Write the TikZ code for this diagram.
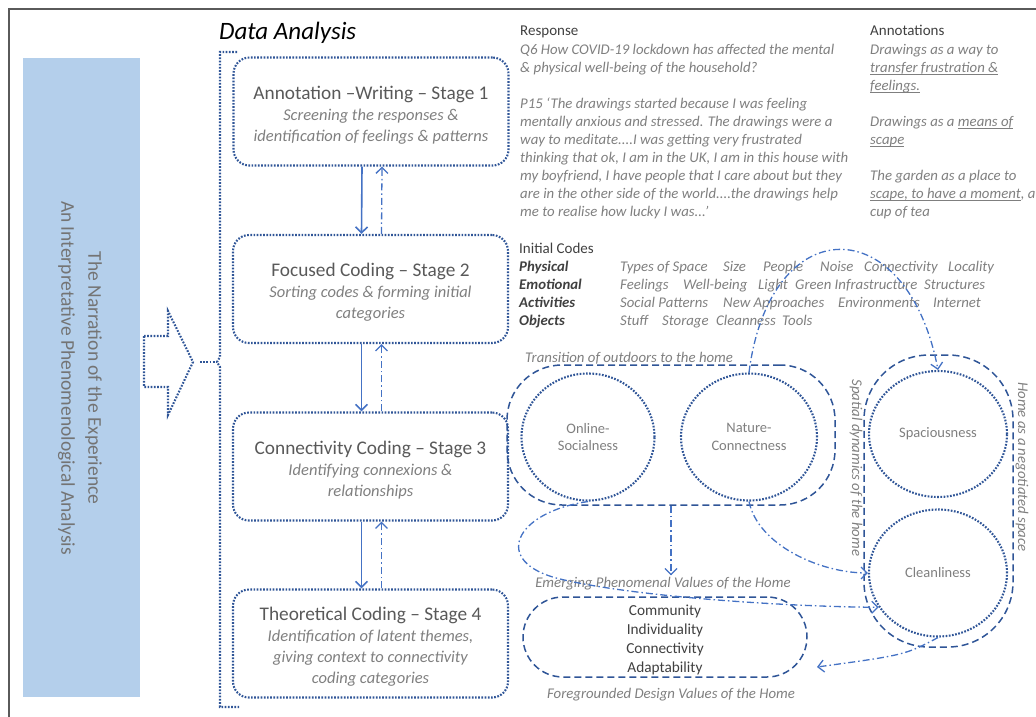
\documentclass[tikz,border=0pt]{standalone}
\usepackage{fontspec}
\setmainfont{Carlito}
\usetikzlibrary{arrows.meta,shapes.geometric,calc}
\definecolor{dblue}{HTML}{2F5597}
\definecolor{mblue}{HTML}{4472C4}
\definecolor{panelblue}{HTML}{B4CFEB}
\definecolor{tdark}{HTML}{404040}
\definecolor{tmid}{HTML}{595959}
\definecolor{tlight}{HTML}{7F7F7F}
\definecolor{tpanel}{HTML}{747474}
\definecolor{framegray}{HTML}{5A5A5A}
\newcommand{\fsT}{\fontsize{19.3}{23}\selectfont}
\newcommand{\fsS}{\fontsize{16.5}{21}\selectfont}
\newcommand{\fsR}{\fontsize{14.8}{18}\selectfont}
\newcommand{\fsD}{\fontsize{25}{30}\selectfont}
\newcommand{\fsP}{\fontsize{19.5}{27}\selectfont}
\newcommand{\fsC}{\fontsize{14.5}{17.5}\selectfont}
\newcommand{\fsV}{\fontsize{15.3}{18.7}\selectfont}
\newcommand{\fsH}{\fontsize{15}{18}\selectfont}
\newcommand{\myul}[1]{\setbox0\hbox{#1}\rlap{\rule[-2.2pt]{\wd0}{0.8pt}}\box0}
\newcommand{\tstrut}{\rule{0pt}{20pt}}
\begin{document}
\begin{tikzpicture}[x=1pt,y=-1pt,
  dotline/.style={draw=dblue,line width=2.1pt,dash pattern=on 1.7pt off 1.5pt},
  stagebox/.style={dotline,rounded corners=16pt,minimum width=275pt,minimum height=108pt,align=center,inner sep=0pt,font=\fsS\itshape,text=tlight},
  dashbox/.style={draw=dblue,line width=1.5pt,dash pattern=on 7pt off 4pt,inner sep=0pt},
  circ/.style={ellipse,dotline,inner sep=0pt,align=center,font=\fsC,text=tlight},
  solidarr/.style={draw=mblue,line width=1.6pt,-{Straight Barb[length=6pt,width=12pt]}},
  ddarr/.style={draw=mblue,line width=1.3pt,dash pattern=on 7pt off 3pt on 1.5pt off 3pt,-{Straight Barb[length=6pt,width=12pt]}},
  rhead/.style={anchor=base west,inner sep=0pt,font=\fsH,text=tdark},
  rtxt/.style={anchor=base west,inner sep=0pt,font=\fsR\itshape,text=tlight},
  ccat/.style={anchor=base west,inner sep=0pt,font=\fsR\bfseries\itshape,text=tdark},
  lbl/.style={inner sep=0pt,font=\fsR\itshape,text=tlight}
]
\useasboundingbox (0,0) rectangle (1036,717);
% frame
\draw[framegray,line width=1.8pt] (9,717) -- (9,9) -- (1036,9);
% left panel
\node[fill=panelblue,minimum width=117pt,minimum height=639pt,inner sep=0pt] (panel) at (81.5,377.5) {};
\node[rotate=-90,align=center,font=\fsP,text=tpanel,inner sep=0pt] (ptext) at (80,378) {The Narration of the Experience\\An Interpretative Phenomenological Analysis};
% block arrow and bracket
\coordinate (ba) at (193,362);
\coordinate (br) at (217,362);
\draw[dotline] (144,336) -- (168,336) -- (168,311) -- (ba) -- (168,415) -- (168,387) -- (144,387) -- cycle;
\draw[dotline] ([xshift=7pt]ba) -- (br);
\draw[dotline] (237,52) -- (220,52) -- (220,357) -- (br) -- (220,367) -- (220,707) -- (239,707);
% title
\node[anchor=west,inner sep=0pt,font=\fsD\itshape] (title) at (219,33) {Data Analysis};
% stage boxes
\node[stagebox] (s1) at (371,111.5) {{\fsT\upshape\color{tmid}\tstrut Annotation –Writing – Stage 1}\\Screening the responses \&\\identification of feelings \& patterns};
\node[stagebox] (s2) at (370.5,289) {{\fsT\upshape\color{tmid}\tstrut Focused Coding – Stage 2}\\Sorting codes \& forming initial\\categories};
\node[stagebox] (s3) at (370.5,466.5) {{\fsT\upshape\color{tmid}\tstrut Connectivity Coding – Stage 3}\\Identifying connexions \&\\relationships};
\node[stagebox] (s4) at (370.5,643.5) {{\fsT\upshape\color{tmid}\tstrut Theoretical Coding – Stage 4}\\Identification of latent themes,\\giving context to connectivity\\coding categories};
\foreach \a/\b in {s1/s2,s2/s3,s3/s4}{
  \draw[solidarr] ([xshift=-9pt]\a.south) -- ([xshift=-9pt]\b.north);
  \draw[ddarr] ([xshift=11pt]\b.north) -- ([xshift=11pt]\a.south);
}
% response
\node[rhead] (resp) at (520,35.5) {Response};
\node[rtxt] (r1) at (520,54.5) {Q6 How COVID-19 lockdown has affected the mental};
\node[rtxt] (r2) at (520,72.5) {\& physical well-being of the household?};
\node[rtxt] (r3) at (520,108.5) {P15 ‘The drawings started because I was feeling};
\node[rtxt] (r4) at (520,126.5) {mentally anxious and stressed. The drawings were a};
\node[rtxt] (r5) at (520,144.5) {way to meditate....I was getting very frustrated};
\node[rtxt] (r6) at (520,162.5) {thinking that ok, I am in the UK, I am in this house with};
\node[rtxt] (r7) at (520,180.5) {my boyfriend, I have people that I care about but they};
\node[rtxt] (r8) at (520,198.5) {are in the other side of the world....the drawings help};
\node[rtxt] (r9) at (520,216.5) {me to realise how lucky I was...’};
% annotations
\node[rhead] (ah) at (870,35.5) {Annotations};
\node[rtxt] (a1) at (870,54.5) {Drawings as a way to};
\node[rtxt] (a2) at (870,72.5) {\myul{transfer frustration \&}};
\node[rtxt] (a3) at (870,90.5) {\myul{feelings.}};
\node[rtxt] (a4) at (870,126.5) {Drawings as a \myul{means of}};
\node[rtxt] (a5) at (870,144.5) {\myul{scape}};
\node[rtxt] (a6) at (870,180.5) {The garden as a place to};
\node[rtxt] (a7) at (870,198.5) {\myul{scape, to have a moment}, a};
\node[rtxt] (a8) at (870,216.5) {cup of tea};
% initial codes
\node[rhead] (ic) at (519,253.5) {Initial Codes};
\node[ccat] (cphys) at (519,271.5) {Physical};
\node[ccat] (cemo) at (519,289.5) {Emotional};
\node[ccat] (cact) at (519,307.5) {Activities};
\node[ccat] (cobj) at (519,325.5) {Objects};
\node[rtxt] (w11) at (620,271.5) {Types of Space};
\node[rtxt] (w12) at (723,271.5) {Size};
\node[rtxt] (w13) at (763,271.5) {People};
\node[rtxt] (w14) at (820,271.5) {Noise};
\node[rtxt] (w15) at (864,271.5) {Connectivity};
\node[rtxt] (w16) at (948,271.5) {Locality};
\node[rtxt] (w21) at (620,289.5) {Feelings};
\node[rtxt] (w22) at (683,289.5) {Well-being};
\node[rtxt] (w23) at (758,289.5) {Light};
\node[rtxt] (w24) at (795,289.5) {Green Infrastructure};
\node[rtxt] (w25) at (924,289.5) {Structures};
\node[rtxt] (w31) at (620,307.5) {Social Patterns};
\node[rtxt] (w32) at (723,307.5) {New Approaches};
\node[rtxt] (w33) at (838,307.5) {Environments};
\node[rtxt] (w34) at (933,307.5) {Internet};
\node[rtxt] (w41) at (620,325.5) {Stuff};
\node[rtxt] (w42) at (662,325.5) {Storage};
\node[rtxt] (w43) at (716,325.5) {Cleanness};
\node[rtxt] (w44) at (782,325.5) {Tools};
% stadiums
\node[dashbox,rounded corners=55pt,minimum width=328pt,minimum height=140pt] (ts) at (671,435) {};
\node[dashbox,rounded corners=65pt,minimum width=149pt,minimum height=292pt] (hs) at (938.5,501) {};
\node[dashbox,rounded corners=40pt,minimum width=284pt,minimum height=80pt,align=center,font=\fsV,text=tdark] (fv) at (665,637) {\rule{0pt}{16.5pt}Community\\Individuality\\Connectivity\\Adaptability};
% circles
\node[circ,minimum width=133pt,minimum height=127pt] (os) at (588,437) {Online-\\Socialness};
\node[circ,minimum width=136pt,minimum height=127pt] (nc) at (749,437) {Nature-\\Connectness};
\node[circ,minimum width=138pt,minimum height=126pt] (sp) at (938,434) {Spaciousness};
\node[circ,minimum width=138pt,minimum height=127pt] (cl) at (938,573) {Cleanliness};
% labels
\node[lbl,anchor=west] (tr) at (525,358) {Transition of outdoors to the home};
\node[lbl] (ev) at (663,584) {Emerging Phenomenal Values of the Home};
\node[lbl] (fg) at (671,695) {Foregrounded Design Values of the Home};
\node[lbl,rotate=-90] (sdl) at (856,468) {Spatial dynamics of the home};
\node[lbl,rotate=-90] (hnl) at (1022,467) {Home as a negotiated space};
% connectors
\coordinate (fvr) at (817,667);
\draw[ddarr] (nc.north) .. controls (770,209) and (907,209) .. (sp.north);
\draw[ddarr] (ts.south) -- ([yshift=2pt]ev.north -| ts.south);
\draw[ddarr] (nc.south) .. controls (758,545) and (820,573) .. (cl.west);
\draw[ddarr] (os.south) .. controls (515,512) and (490,562) .. (560,579) .. controls (640,598) and (800,607) .. (cl.210);
\draw[ddarr] (cl.south) .. controls (905,655) .. (fvr);
\end{tikzpicture}
\end{document}
